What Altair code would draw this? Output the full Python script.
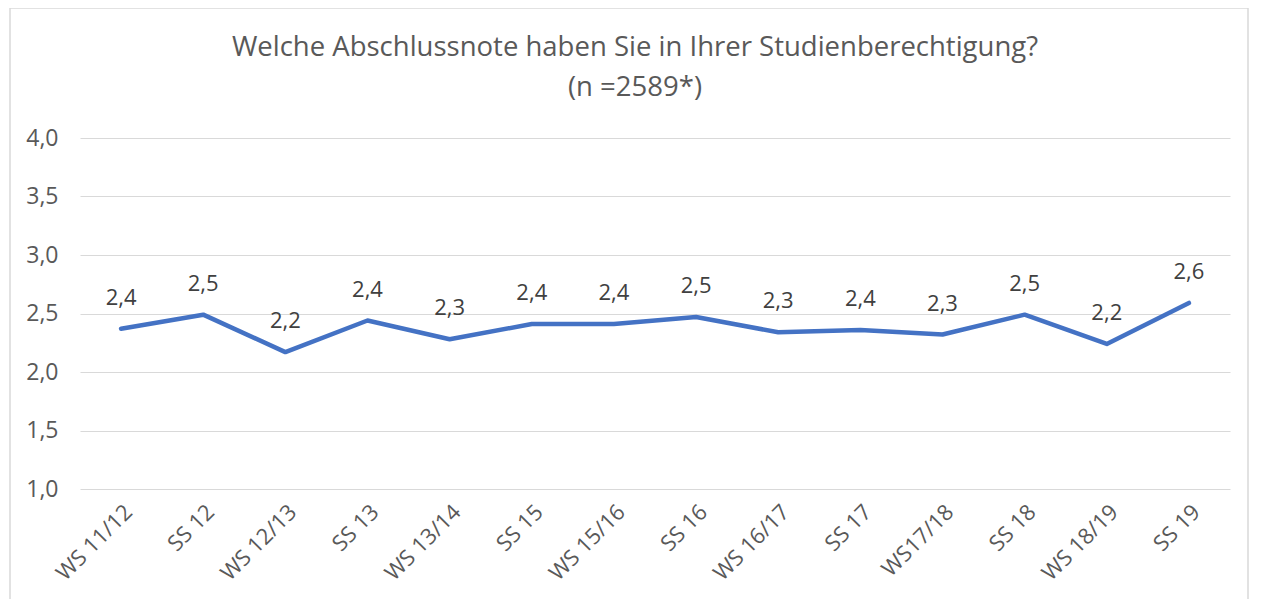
import altair as alt
import pandas as pd

semesters = ["WS 11/12", "SS 12", "WS 12/13", "SS 13", "WS 13/14", "SS 15", "WS 15/16",
             "SS 16", "WS 16/17", "SS 17", "WS17/18", "SS 18", "WS 18/19", "SS 19"]
grades = [2.37, 2.49, 2.17, 2.44, 2.28, 2.41, 2.41, 2.47, 2.34, 2.36, 2.32, 2.49, 2.24, 2.59]
labels = ["2,4", "2,5", "2,2", "2,4", "2,3", "2,4", "2,4", "2,5", "2,3", "2,4", "2,3", "2,5", "2,2", "2,6"]
title_line1 = "Welche Abschlussnote haben Sie in Ihrer Studienberechtigung?"
title_line2 = "(n =2589*)"

df = pd.DataFrame({"sem": semesters, "note": grades, "label": labels})

FONT = "Open Sans"
GRAY = "#595959"

x = alt.X("sem:N", sort=semesters, title=None,
          scale=alt.Scale(type="point", padding=0.5),
          axis=alt.Axis(labelAngle=-45, labelAlign="right", labelBaseline="top",
                        labelPadding=12, ticks=False, domain=False, labelFontSize=22,
                        labelColor=GRAY, labelFont=FONT, grid=False))
y = alt.Y("note:Q", title=None,
          scale=alt.Scale(domain=[1, 4], nice=False, zero=False),
          axis=alt.Axis(values=[1, 1.5, 2, 2.5, 3, 3.5, 4],
                        labelExpr="replace(format(datum.value, '.1f'), '.', ',')",
                        ticks=False, domain=False, labelPadding=22, labelFontSize=23,
                        labelColor=GRAY, labelFont=FONT, gridColor="#d9d9d9", gridWidth=1.2))

base = alt.Chart(df)
line = base.mark_line(color="#4472C4", strokeWidth=4.5, strokeCap="round", strokeJoin="round").encode(x=x, y=y)
text = base.mark_text(dy=-31, fontSize=22, color="#404040", font=FONT, baseline="middle").encode(
    x=x, y=y, text="label:N")

one = pd.DataFrame({"a": [0]})
t1 = alt.Chart(one).mark_text(fontSize=27.5, color=GRAY, font=FONT, baseline="middle",
                              text=title_line1).encode(x=alt.value(555), y=alt.value(-90))
t2 = alt.Chart(one).mark_text(fontSize=27.5, color=GRAY, font=FONT, baseline="middle",
                              text=title_line2).encode(x=alt.value(555), y=alt.value(-50))

frame = alt.Chart(one).mark_rect(
    fill=None, stroke="#d9d9d9", strokeWidth=1.5, clip=False).encode(
    x=alt.value(-70), x2=alt.value(1168), y=alt.value(-130), y2=alt.value(700))

chart = alt.layer(frame, line, text, t1, t2).properties(
    width=1150, height=351,
    padding={"left": 72, "top": 130, "right": 23, "bottom": 110},
    autosize=alt.AutoSizeParams(type="none"),
    background="white",
).configure_view(stroke=None)

chart.save("out.html", embed_options={"renderer": "svg", "actions": False})
